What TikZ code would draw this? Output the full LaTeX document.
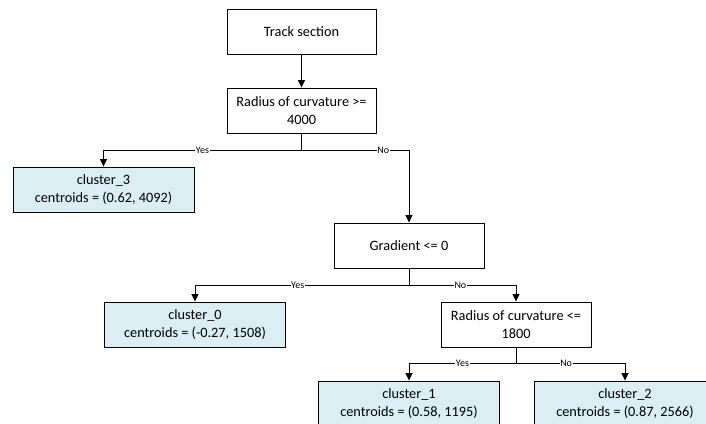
\documentclass[tikz,border=0pt]{standalone}
\usepackage{fontspec}
\setmainfont{Carlito}
\usetikzlibrary{arrows.meta}
\definecolor{leafblue}{HTML}{DAEEF3}
\begin{document}
\begin{tikzpicture}[x=1pt,y=-1pt,
  box/.style={draw=black,line width=0.9pt,minimum height=45pt,align=center,font=\fontsize{14.3}{18}\selectfont,inner sep=2pt},
  dbox/.style={box,fill=white,minimum width=149pt},
  leaf/.style={box,fill=leafblue,minimum width=181pt},
  conn/.style={line width=0.9pt},
  arr/.style={conn,-{Triangle[width=7pt,length=7.5pt]}},
  lbl/.style={fill=white,inner sep=0.6pt,font=\fontsize{10}{11}\selectfont}]
\useasboundingbox (0,0) rectangle (706,423);
\clip (0,0) rectangle (706,423);
\fill[white] (0,0) rectangle (706,423);
\node[dbox] (ts) at (301.5,32) {Track section};
\node[dbox] (r1) at (301.5,110.5) {Radius of curvature >=\\4000};
\node[leaf] (c3) at (103.5,189.5) {cluster\_3\\centroids = (0.62, 4092)};
\node[dbox,minimum width=150pt] (gr) at (409,245.5) {Gradient <= 0};
\node[leaf] (c0) at (195,324.5) {cluster\_0\\centroids = (-0.27, 1508)};
\node[dbox,minimum width=150pt] (r2) at (516,324.5) {Radius of curvature <=\\1800};
\node[leaf] (c1) at (409,403.5) {cluster\_1\\centroids = (0.58, 1195)};
\node[leaf] (c2) at (625,403.5) {cluster\_2\\centroids = (0.87, 2566)};
\coordinate (j1) at (301.5,150);
\coordinate (j2) at (409,285);
\coordinate (j3) at (516,363);
\draw[arr] (ts) -- (r1);
\draw[conn] (r1.south) -- (j1);
\draw[arr] (j1) -| node[lbl,pos=0.25] {Yes} (c3.north);
\draw[arr] (j1) -| node[lbl,pos=0.38] {No} (gr.north);
\draw[conn] (gr.south) -- (j2);
\draw[arr] (j2) -| node[lbl,pos=0.26] {Yes} (c0.north);
\draw[arr] (j2) -| node[lbl,pos=0.24] {No} (r2.north);
\draw[conn] (r2.south) -- (j3);
\draw[arr] (j3) -| node[lbl,pos=0.25] {Yes} (c1.north);
\draw[arr] (j3) -| node[lbl,pos=0.23] {No} (c2.north);
\end{tikzpicture}
\end{document}
